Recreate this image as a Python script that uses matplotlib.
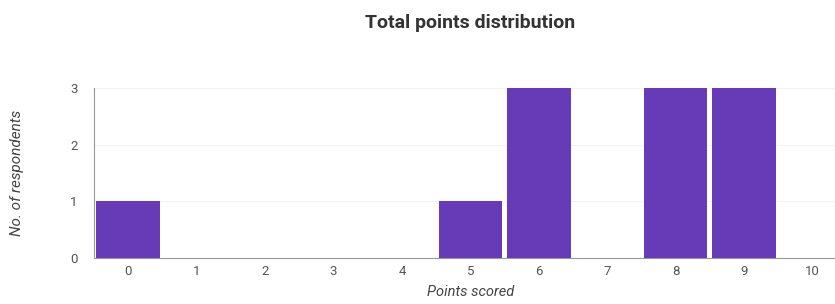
import matplotlib.pyplot as plt

points = list(range(11))
respondents = [1, 0, 0, 0, 0, 1, 3, 0, 3, 3, 0]
yticks = [0, 1, 2, 3]

plt.rcParams['font.family'] = ['Roboto', 'DejaVu Sans']

fig = plt.figure(figsize=(8.35, 3.04), dpi=100)
ax = fig.add_axes([94 / 835, 46 / 304, 741 / 835, 170 / 304])

ax.bar(points, respondents, width=0.93, color="#673ab7", zorder=3)

ax.set_xlim(-0.5, 10.33)
ax.set_ylim(0, 3)
ax.set_xticks(points)
ax.set_yticks(yticks)
ax.tick_params(length=0, labelsize=9.5, colors="#555555", pad=5)
ax.tick_params(axis="y", pad=12)
ax.grid(axis="y", color="#f2f2f2", lw=0.8, zorder=0)

for s in ["top", "right"]:
    ax.spines[s].set_visible(False)
ax.spines["left"].set_color("#999999")
ax.spines["bottom"].set_color("#999999")

ax.set_xlabel("Points scored", fontsize=10.5, style="italic", color="#444444")
ax.xaxis.set_label_coords((5 + 0.5) / 10.83, -0.16)
ax.set_ylabel("No. of respondents", fontsize=11, style="italic", color="#444444")
ax.yaxis.set_label_coords(-70 / 741, 0.5)

fig.text(0.563, 0.925, "Total points distribution", ha="center", va="center",
         fontsize=14, fontweight="bold", color="#333333")

fig.savefig("out.png", dpi=100)
